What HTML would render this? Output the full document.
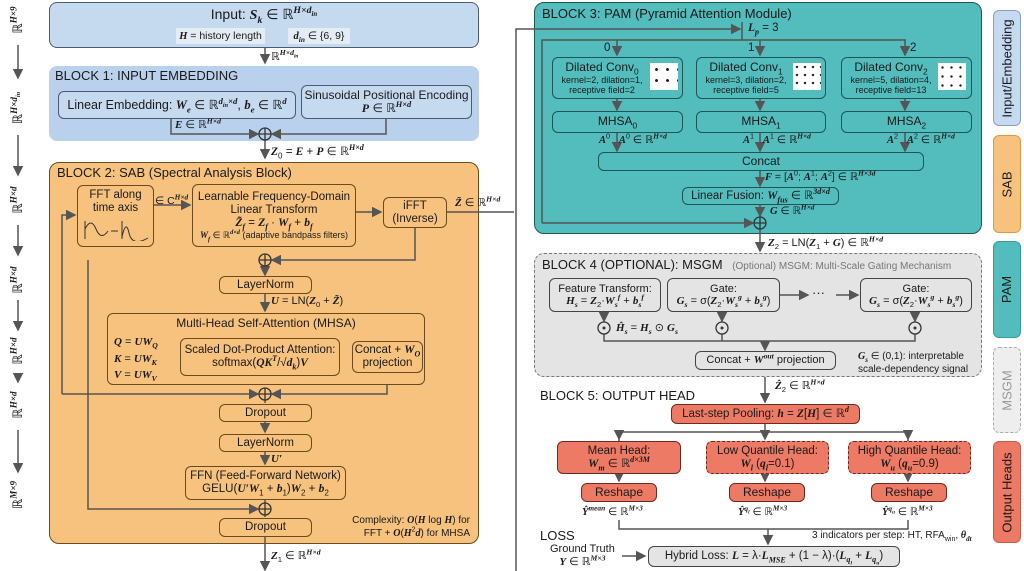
<!DOCTYPE html>
<html><head><meta charset="utf-8"><style>
body{margin:0;width:1024px;height:571px;background:#fff;position:relative;overflow:hidden;font-family:"Liberation Sans",sans-serif;color:#1a1a1a}
.a{position:absolute;white-space:nowrap}
.b{position:absolute;box-sizing:border-box;border:1.5px solid #333;border-radius:6px;display:flex;flex-direction:column;align-items:center;justify-content:center;text-align:center;line-height:1.12;font-size:11.5px;white-space:nowrap}
.o{background:#f6c27e;border-color:#6b4a1e}
.t{background:#53bcbd;border-color:#1f5555}
.r{background:#ec7a64;border-color:#6e2a20}
.g{background:#e4e4e4;border-color:#444}
.bl{background:#c5d9ef;border-color:#4a5a70}
i{font-family:"Liberation Serif",serif;font-weight:bold}
sub,sup{font-size:70%;line-height:0}
.ttl{font-size:13px}
.vt{position:absolute;transform:rotate(-90deg);transform-origin:center;white-space:nowrap;font-family:"Liberation Serif",serif;font-size:13px}
.lg{position:absolute;box-sizing:border-box;border-radius:6px;display:flex;align-items:center;justify-content:center}
.lg span{transform:rotate(-90deg);white-space:nowrap;font-size:13px}
</style></head><body>
<div class="b bl" style="left:49px;top:2px;width:430px;height:46px;justify-content:flex-start;padding-top:4px;border-radius:8px"><div style="font-size:14px">Input: <i>S<sub>k</sub></i> ∈ ℝ<sup><i>H×d<sub>in</sub></i></sup></div></div>
<div class="a" style="left:176px;top:28px;width:89px;height:16px;background:#e4ecf5;font-size:10.5px;text-align:center;line-height:16px"><i>H</i> = history length</div>
<div class="a" style="left:288px;top:28px;width:62px;height:16px;background:#e4ecf5;font-size:10.5px;text-align:center;line-height:16px"><i>d<sub>in</sub></i> ∈ {6, 9}</div>
<div class="a" style="left:49px;top:66px;width:430px;height:75px;background:#b9d1ec;border-radius:8px"></div>
<div class="a" style="left:49px;top:162px;width:430px;height:382px;background:#f6c27e;border:1.5px solid #6b4a1e;border-radius:10px;box-sizing:border-box"></div>
<div class="a" style="left:534px;top:2px;width:448px;height:232px;background:#53bcbd;border:1.5px solid #1f5555;border-radius:10px;box-sizing:border-box"></div>
<div class="a" style="left:534px;top:253px;width:448px;height:124px;background:#e4e4e4;border:1.5px dashed #777;border-radius:10px;box-sizing:border-box"></div>

<svg class="a" style="left:0;top:0" width="1024" height="571" viewBox="0 0 1024 571">
<defs><marker id="m" markerWidth="7" markerHeight="7" refX="6" refY="3.5" orient="auto"><path d="M0,0 L7,3.5 L0,7 z" fill="#555"/></marker></defs>
<g stroke="#555" stroke-width="1.5" fill="none">
<path d="M18,45 V78" marker-end="url(#m)"/><path d="M18,135 V175" marker-end="url(#m)"/><path d="M18,225 V255" marker-end="url(#m)"/><path d="M18,300 V330" marker-end="url(#m)"/><path d="M18,375 V382" marker-end="url(#m)"/><path d="M18,430 V472" marker-end="url(#m)"/>
<path d="M265,48 V63" marker-end="url(#m)"/>
<path d="M171,118 V134 H258" marker-end="url(#m)"/><path d="M386,118 V134 H272" marker-end="url(#m)"/>
<path d="M265,140 V158" marker-end="url(#m)"/>
<path d="M153,205 H190" marker-end="url(#m)"/><path d="M355,212 H381" marker-end="url(#m)"/>
<path d="M446,212 H514"/>
<path d="M415,227 V260 H272" marker-end="url(#m)"/>
<path d="M265,266 V275" marker-end="url(#m)"/>
<path d="M265,293 V311" marker-end="url(#m)"/>
<path d="M62,394 V215 H75" marker-end="url(#m)"/>
<path d="M62,394 H258" marker-end="url(#m)"/>
<path d="M387,373 V394 H272" marker-end="url(#m)"/>
<path d="M88,260 V509 H258" marker-end="url(#m)"/>
<path d="M265,400 V403"/><path d="M265,422 V432" marker-end="url(#m)"/><path d="M265,452 V464" marker-end="url(#m)"/><path d="M265,500 V503"/><path d="M265,515 V517"/>
<path d="M265,537 V570" marker-end="url(#m)"/>
<path d="M166,345 H178" marker-end="url(#m)"/><path d="M166,357 H178" marker-end="url(#m)"/><path d="M166,370 H178" marker-end="url(#m)"/><path d="M339,357 H350" marker-end="url(#m)"/>
<path d="M516,571 V29 H740" marker-end="url(#m)"/>
<path d="M742,22 V40"/>
<path d="M542,223 V40 H906"/>
<path d="M617,40 V55" marker-end="url(#m)"/><path d="M760,40 V55" marker-end="url(#m)"/><path d="M905,40 V55" marker-end="url(#m)"/>
<path d="M617,98 V110" marker-end="url(#m)"/><path d="M760,98 V110" marker-end="url(#m)"/><path d="M905,98 V110" marker-end="url(#m)"/>
<path d="M617,132 V151" marker-end="url(#m)"/><path d="M760,132 V151" marker-end="url(#m)"/><path d="M905,132 V151" marker-end="url(#m)"/>
<path d="M760,170 V186" marker-end="url(#m)"/><path d="M760,204 V216" marker-end="url(#m)"/>
<path d="M542,223 H753" marker-end="url(#m)"/>
<path d="M760,229 V251" marker-end="url(#m)"/>
<path d="M604,311 V321" marker-end="url(#m)"/><path d="M722,311 V321" marker-end="url(#m)"/><path d="M915,311 V321" marker-end="url(#m)"/>
<path d="M780,295 H808" marker-end="url(#m)"/><path d="M836,295 H858" marker-end="url(#m)"/>
<path d="M604,334 V341 H915 V334"/><path d="M722,334 V341"/><path d="M765,341 V350" marker-end="url(#m)"/>
<path d="M765,377 V402" marker-end="url(#m)"/>
<path d="M765,423 V432 M619,441 V432 H908 V441"/>
<path d="M619,432 V439" marker-end="url(#m)"/><path d="M765,432 V439" marker-end="url(#m)"/><path d="M908,432 V439" marker-end="url(#m)"/>
<path d="M619,473 V481" marker-end="url(#m)"/><path d="M765,473 V481" marker-end="url(#m)"/><path d="M908,473 V481" marker-end="url(#m)"/>
<path d="M619,520 V529 H908 V520"/><path d="M768,529 V544" marker-end="url(#m)"/>
<path d="M622,556 H645" marker-end="url(#m)"/>
</g>
<g stroke="#333" stroke-width="1.3" fill="none">
<circle cx="265" cy="134" r="6"/><path d="M259,134h12M265,128v12"/>
<circle cx="265" cy="260" r="6"/><path d="M259,260h12M265,254v12"/>
<circle cx="265" cy="394" r="6"/><path d="M259,394h12M265,388v12"/>
<circle cx="265" cy="509" r="6"/><path d="M259,509h12M265,503v12"/>
<circle cx="760" cy="223" r="6"/><path d="M754,223h12M760,217v12"/>
<circle cx="604" cy="328" r="6"/><circle cx="722" cy="328" r="6"/><circle cx="915" cy="328" r="6"/>
</g>
<g fill="#333"><circle cx="604" cy="328" r="1.5"/><circle cx="722" cy="328" r="1.5"/><circle cx="915" cy="328" r="1.5"/></g>
</svg>

<div class="vt" style="left:0;top:12px;width:36px;text-align:center">ℝ<sup><i>H×9</i></sup></div>
<div class="vt" style="left:-4px;top:100px;width:44px;text-align:center">ℝ<sup><i>H×d<sub>in</sub></i></sup></div>
<div class="vt" style="left:0;top:192px;width:36px;text-align:center">ℝ<sup><i>H×d</i></sup></div>
<div class="vt" style="left:0;top:272px;width:36px;text-align:center">ℝ<sup><i>H×d</i></sup></div>
<div class="vt" style="left:0;top:343px;width:36px;text-align:center">ℝ<sup><i>H×d</i></sup></div>
<div class="vt" style="left:0;top:397px;width:36px;text-align:center">ℝ<sup><i>H×d</i></sup></div>
<div class="vt" style="left:0;top:487px;width:36px;text-align:center">ℝ<sup><i>M×9</i></sup></div>

<div class="a" style="left:271px;top:50px;font-size:11px">ℝ<sup><i>H×d<sub>in</sub></i></sup></div>
<div class="a ttl" style="left:55px;top:68px">BLOCK 1: INPUT EMBEDDING</div>
<div class="b" style="left:58px;top:91px;width:238px;height:28px;background:#c5d9ef;border-color:#4a5a70;font-size:12.5px">
<div>Linear Embedding: <i>W<sub>e</sub></i> ∈ ℝ<sup><i>d<sub>in</sub>×d</i></sup>, <i>b<sub>e</sub></i> ∈ ℝ<sup><i>d</i></sup></div></div>
<div class="b" style="left:301px;top:85px;width:171px;height:34px;background:#c5d9ef;border-color:#4a5a70;font-size:12px">
<div>Sinusoidal Positional Encoding</div><div><i>P</i> ∈ ℝ<sup><i>H×d</i></sup></div></div>
<div class="a" style="left:175px;top:118px;font-size:11px"><i>E</i> ∈ ℝ<sup><i>H×d</i></sup></div>
<div class="a" style="left:271px;top:144px;font-size:11.5px"><i>Z</i><sub>0</sub> = <i>E</i> + <i>P</i> ∈ ℝ<sup><i>H×d</i></sup></div>

<div class="a ttl" style="left:57px;top:165px">BLOCK 2: SAB (Spectral Analysis Block)</div>
<div class="b o" style="left:77px;top:185px;width:77px;height:62px;justify-content:flex-start;padding-top:3px;font-size:11.5px"><div>FFT along</div><div>time axis</div>
<svg width="68" height="24" style="margin-top:2px"><path d="M3,22V4 M3,12 Q9,0 14,12 T26,14" stroke="#333" fill="none"/><path d="M29,14h7" stroke="#333"/><path d="M40,22V4 M40,20 Q44,2 47,16 T66,21" stroke="#333" fill="none"/></svg></div>
<div class="a" style="left:155px;top:195px;font-size:10.5px">∈ C<sup><i>H×d</i></sup></div>
<div class="b o" style="left:192px;top:184px;width:164px;height:63px;font-size:11.5px">
<div>Learnable Frequency-Domain</div><div>Linear Transform</div><div><i>Z̃<sub>f</sub></i> = <i>Z<sub>f</sub></i> · <i>W<sub>f</sub></i> + <i>b<sub>f</sub></i></div><div style="font-size:9px"><i>W<sub>f</sub></i> ∈ ℝ<sup><i>d×d</i></sup> (adaptive bandpass filters)</div></div>
<div class="b o" style="left:383px;top:197px;width:64px;height:31px"><div>iFFT</div><div>(Inverse)</div></div>
<div class="a" style="left:455px;top:196px;font-size:11px"><i>Z̃</i> ∈ ℝ<sup><i>H×d</i></sup></div>
<div class="b o" style="left:219px;top:276px;width:93px;height:18px"><div>LayerNorm</div></div>
<div class="a" style="left:271px;top:295px;font-size:11px"><i>U</i> = LN(<i>Z</i><sub>0</sub> + <i>Z̃</i>)</div>
<div class="b o" style="left:107px;top:313px;width:318px;height:72px;justify-content:flex-start;padding-top:3px;font-size:12px"><div>Multi-Head Self-Attention (MHSA)</div></div>
<div class="a" style="left:114px;top:334px;font-size:11px;line-height:16.5px"><i>Q</i> = <i>UW<sub>Q</sub></i><br><i>K</i> = <i>UW<sub>K</sub></i><br><i>V</i> = <i>UW<sub>V</sub></i></div>
<div class="b o" style="left:180px;top:338px;width:160px;height:38px;font-size:11.5px"><div>Scaled Dot-Product Attention:</div><div>softmax(<i>QK<sup>T</sup></i>/√<i>d<sub>k</sub></i>)<i>V</i></div></div>
<div class="b o" style="left:352px;top:341px;width:71px;height:32px"><div>Concat + <i>W<sub>O</sub></i></div><div>projection</div></div>
<div class="b o" style="left:219px;top:404px;width:93px;height:18px"><div>Dropout</div></div>
<div class="b o" style="left:219px;top:434px;width:93px;height:18px"><div>LayerNorm</div></div>
<div class="a" style="left:271px;top:453px;font-size:11px"><i>U′</i></div>
<div class="b o" style="left:185px;top:466px;width:161px;height:34px"><div>FFN (Feed-Forward Network)</div><div>GELU(<i>U′W</i><sub>1</sub> + <i>b</i><sub>1</sub>)<i>W</i><sub>2</sub> + <i>b</i><sub>2</sub></div></div>
<div class="b o" style="left:219px;top:518px;width:93px;height:19px"><div>Dropout</div></div>
<div class="a" style="left:346px;top:514px;font-size:10px;text-align:right;line-height:13px;width:124px;white-space:normal">Complexity: <i>O</i>(<i>H</i> log <i>H</i>) for FFT + <i>O</i>(<i>H</i><sup>2</sup><i>d</i>) for MHSA</div>
<div class="a" style="left:271px;top:549px;font-size:11px"><i>Z</i><sub>1</sub> ∈ ℝ<sup><i>H×d</i></sup></div>

<div class="a ttl" style="left:542px;top:6px">BLOCK 3: PAM (Pyramid Attention Module)</div>
<div class="a" style="left:748px;top:22px;font-size:11.5px"><i>L<sub>p</sub></i> = 3</div>
<div class="a" style="left:604px;top:42px;font-size:11.5px">0</div><div class="a" style="left:748px;top:42px;font-size:11.5px">1</div><div class="a" style="left:910px;top:42px;font-size:11.5px">2</div>
<div class="b t" style="left:552px;top:57px;width:131px;height:42px;align-items:flex-start;padding-left:3px"><div style="font-size:12px;width:92px">Dilated Conv<sub>0</sub></div><div style="font-size:9px;width:92px">kernel=2, dilation=1,<br>receptive field=2</div></div>
<div class="b t" style="left:696px;top:57px;width:130px;height:42px;align-items:flex-start;padding-left:3px"><div style="font-size:12px;width:92px">Dilated Conv<sub>1</sub></div><div style="font-size:9px;width:92px">kernel=3, dilation=2,<br>receptive field=5</div></div>
<div class="b t" style="left:841px;top:57px;width:131px;height:42px;align-items:flex-start;padding-left:3px"><div style="font-size:12px;width:92px">Dilated Conv<sub>2</sub></div><div style="font-size:9px;width:92px">kernel=5, dilation=4,<br>receptive field=13</div></div>
<div class="a" style="left:650px;top:63px;width:28px;height:27px;background:#fff;background-image:radial-gradient(#222 1.3px,transparent 1.6px);background-size:11px 11px;background-position:1px 1px"></div>
<div class="a" style="left:793px;top:63px;width:28px;height:27px;background:#fff;background-image:radial-gradient(#222 1px,transparent 1.4px);background-size:8px 8px"></div>
<div class="a" style="left:938px;top:63px;width:28px;height:27px;background:#fff;background-image:radial-gradient(#222 1px,transparent 1.4px);background-size:9px 9px"></div>
<div class="b t" style="left:552px;top:111px;width:131px;height:22px;font-size:12px"><div>MHSA<sub>0</sub></div></div>
<div class="b t" style="left:696px;top:111px;width:130px;height:22px;font-size:12px"><div>MHSA<sub>1</sub></div></div>
<div class="b t" style="left:841px;top:111px;width:131px;height:22px;font-size:12px"><div>MHSA<sub>2</sub></div></div>
<div class="a" style="left:599px;top:134px;font-size:10.5px"><i>A</i><sup>0</sup>&nbsp;&nbsp;&nbsp;<i>A</i><sup>0</sup> ∈ ℝ<sup><i>H×d</i></sup></div>
<div class="a" style="left:743px;top:134px;font-size:10.5px"><i>A</i><sup>1</sup>&nbsp;&nbsp;&nbsp;<i>A</i><sup>1</sup> ∈ ℝ<sup><i>H×d</i></sup></div>
<div class="a" style="left:887px;top:134px;font-size:10.5px"><i>A</i><sup>2</sup>&nbsp;&nbsp;&nbsp;<i>A</i><sup>2</sup> ∈ ℝ<sup><i>H×d</i></sup></div>
<div class="b t" style="left:598px;top:152px;width:326px;height:19px;font-size:12px"><div>Concat</div></div>
<div class="a" style="left:765px;top:171px;font-size:10.5px"><i>F</i> = [<i>A</i><sup>0</sup>; <i>A</i><sup>1</sup>; <i>A</i><sup>2</sup>] ∈ ℝ<sup><i>H×3d</i></sup></div>
<div class="b t" style="left:682px;top:187px;width:157px;height:18px;font-size:11.5px"><div>Linear Fusion: <i>W<sub>fus</sub></i> ∈ ℝ<sup><i>3d×d</i></sup></div></div>
<div class="a" style="left:770px;top:205px;font-size:10.5px"><i>G</i> ∈ ℝ<sup><i>H×d</i></sup></div>
<div class="a" style="left:768px;top:236px;font-size:11px"><i>Z</i><sub>2</sub> = LN(<i>Z</i><sub>1</sub> + <i>G</i>) ∈ ℝ<sup><i>H×d</i></sup></div>

<div class="a ttl" style="left:542px;top:257px">BLOCK 4 (OPTIONAL): MSGM <span style="font-size:10px;color:#777;margin-left:6px">(Optional) MSGM: Multi-Scale Gating Mechanism</span></div>
<div class="b g" style="left:549px;top:278px;width:112px;height:34px;font-size:11px"><div>Feature Transform:</div><div><i>H<sub>s</sub></i> = <i>Z</i><sub>2</sub>·<i>W<sub>s</sub><sup>f</sup></i> + <i>b<sub>s</sub><sup>f</sup></i></div></div>
<div class="b g" style="left:667px;top:278px;width:113px;height:34px;font-size:11px"><div>Gate:</div><div><i>G<sub>s</sub></i> = σ(<i>Z</i><sub>2</sub>·<i>W<sub>s</sub><sup>g</sup></i> + <i>b<sub>s</sub><sup>g</sup></i>)</div></div>
<div class="a" style="left:812px;top:285px;font-size:13px">···</div>
<div class="b g" style="left:860px;top:278px;width:112px;height:34px;font-size:11px"><div>Gate:</div><div><i>G<sub>s</sub></i> = σ(<i>Z</i><sub>2</sub>·<i>W<sub>s</sub><sup>g</sup></i> + <i>b<sub>s</sub><sup>g</sup></i>)</div></div>
<div class="a" style="left:616px;top:321px;font-size:11px"><i>Ĥ<sub>s</sub></i> = <i>H<sub>s</sub></i> ⊙ <i>G<sub>s</sub></i></div>
<div class="b g" style="left:695px;top:351px;width:141px;height:19px;font-size:11px"><div>Concat + <i>W<sup>out</sup></i> projection</div></div>
<div class="a" style="left:858px;top:350px;font-size:10px;line-height:13px"><i>G<sub>s</sub></i> ∈ (0,1): interpretable<br>scale-dependency signal</div>

<div class="a" style="left:775px;top:379px;font-size:11px"><i>Ẑ</i><sub>2</sub> ∈ ℝ<sup><i>H×d</i></sup></div>
<div class="a ttl" style="left:540px;top:388px">BLOCK 5: OUTPUT HEAD</div>
<div class="b r" style="left:671px;top:404px;width:189px;height:20px;font-size:11.5px"><div>Last-step Pooling: <i>h</i> = <i>Z</i>[<i>H</i>] ∈ ℝ<sup><i>d</i></sup></div></div>
<div class="b r" style="left:557px;top:441px;width:124px;height:33px;font-size:11.5px"><div>Mean Head:</div><div><i>W<sub>m</sub></i> ∈ ℝ<sup><i>d×3M</i></sup></div></div>
<div class="b r" style="left:706px;top:441px;width:123px;height:33px;font-size:11.5px;border-style:dashed"><div>Low Quantile Head:</div><div><i>W<sub>l</sub></i> (<i>q<sub>l</sub></i>=0.1)</div></div>
<div class="b r" style="left:848px;top:441px;width:123px;height:33px;font-size:11.5px;border-style:dashed"><div>High Quantile Head:</div><div><i>W<sub>u</sub></i> (<i>q<sub>u</sub></i>=0.9)</div></div>
<div class="b r" style="left:581px;top:483px;width:76px;height:19px;font-size:12px"><div>Reshape</div></div>
<div class="b r" style="left:729px;top:483px;width:76px;height:19px;font-size:12px"><div>Reshape</div></div>
<div class="b r" style="left:871px;top:483px;width:76px;height:19px;font-size:12px"><div>Reshape</div></div>
<div class="a" style="left:582px;top:506px;font-size:10.5px"><i>Ŷ<sup>mean</sup></i> ∈ ℝ<sup><i>M×3</i></sup></div>
<div class="a" style="left:738px;top:506px;font-size:10.5px"><i>Ŷ<sup>q<sub>l</sub></sup></i> ∈ ℝ<sup><i>M×3</i></sup></div>
<div class="a" style="left:882px;top:506px;font-size:10.5px"><i>Ŷ<sup>q<sub>u</sub></sup></i> ∈ ℝ<sup><i>M×3</i></sup></div>
<div class="a ttl" style="left:540px;top:528px">LOSS</div>
<div class="a" style="left:812px;top:530px;font-size:10px">3 indicators per step: HT, RFA<sub>win</sub>, <i>θ<sub>dt</sub></i></div>
<div class="a" style="left:550px;top:543px;font-size:11px;text-align:center;line-height:13px">Ground Truth<br><i>Y</i> ∈ ℝ<sup><i>M×3</i></sup></div>
<div class="b g" style="left:648px;top:546px;width:252px;height:21px;font-size:11.5px"><div>Hybrid Loss: <i>L</i> = λ·<i>L<sub>MSE</sub></i> + (1 − λ)·(<i>L<sub>q<sub>l</sub></sub></i> + <i>L<sub>q<sub>u</sub></sub></i>)</div></div>

<div class="lg" style="left:993px;top:10px;width:28px;height:116px;background:#c5d9ef;border:1.5px solid #8aa0c0"><span>Input/Embedding</span></div>
<div class="lg" style="left:993px;top:135px;width:28px;height:98px;background:#f6c27e;border:1.5px solid #d99a4a"><span>SAB</span></div>
<div class="lg" style="left:993px;top:241px;width:28px;height:97px;background:#53bcbd;border:1.5px solid #3a9a9a"><span>PAM</span></div>
<div class="lg" style="left:993px;top:347px;width:28px;height:86px;background:#eee;border:1.5px dashed #aaa;color:#999"><span>MSGM</span></div>
<div class="lg" style="left:993px;top:441px;width:28px;height:102px;background:#ec7a64;border:1.5px solid #c85a48"><span>Output Heads</span></div>
</body></html>
